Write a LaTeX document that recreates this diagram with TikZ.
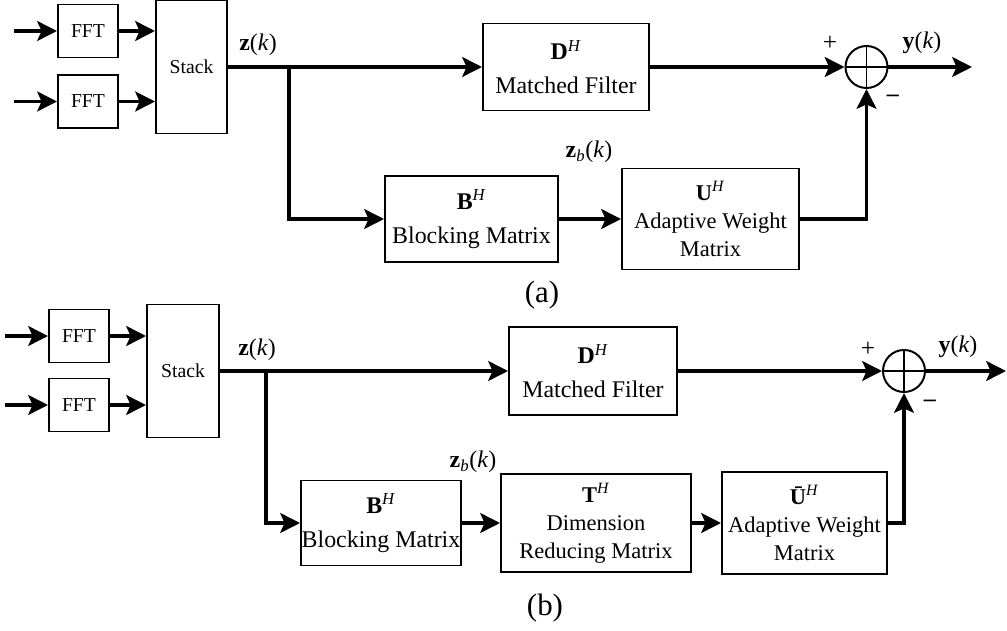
\documentclass[tikz,border=0pt]{standalone}
\usepackage{fontspec}
\setmainfont{Liberation Serif}
\usetikzlibrary{arrows.meta}
\newcommand{\vb}[1]{\textbf{#1}}
\newcommand{\hsup}{\textsuperscript{\textit{H}}}

\begin{document}
\begin{tikzpicture}[x=0.025cm, y=-0.025cm,
    blk/.style 2 args={draw, line width=1.4pt, align=center, inner sep=0pt,
        minimum width=#1*0.025cm, minimum height=#2*0.025cm,
        font=\fontsize{17}{24}\selectfont},
    fftbox/.style={blk={60}{53}, font=\fontsize{14}{16}\selectfont},
    threeline/.style={font=\fontsize{16}{20}\selectfont},
    summer/.style={circle, draw, line width=1.4pt, minimum size=42*0.025cm, inner sep=0pt},
    lbl/.style={font=\fontsize{17}{18}\selectfont},
    sig/.style={line width=2.8pt, -{Stealth[length=14pt, width=14pt, inset=3pt]}}]
    \useasboundingbox (0,0) rectangle (1007,631);

    % (a) blocks
    \node[fftbox] (fftA1) at (88,31) {FFT};
    \node[fftbox] (fftA2) at (88,101.5) {FFT};
    \node[blk={71}{133}, font=\fontsize{14}{16}\selectfont] (stackA) at (191.5,67) {Stack};
    \node[blk={166}{87}] (matchA) at (566,67) {\vb{D}\hsup\\Matched Filter};
    \node[blk={173}{86}] (blockA) at (471.5,219) {\vb{B}\hsup\\Blocking Matrix};
    \node[blk={177}{101}, threeline] (adaptA) at (710.5,219) {\vb{U}\hsup\\Adaptive Weight\\Matrix};
    \node[summer] (sumA) at (866.5,67) {};
    \draw[line width=1.4pt] (sumA.north) -- (sumA.south) (sumA.west) -- (sumA.east);

    % (a) labels
    \node[lbl] (zA) at (258,45) {\vb{z}(\textit{k})};
    \node[lbl] (zbA) at (589,152) {\vb{z}\textsubscript{\textit{b}}(\textit{k})};
    \node[lbl] (yA) at (922,43) {\vb{y}(\textit{k})};
    \node[font=\fontsize{18}{18}\selectfont] (plusA) at (830,43) {+};
    \node[lbl] (minusA) at (893,98) {\textbf{–}};
    \node[font=\fontsize{22}{24}\selectfont] (capA) at (542,295) {(a)};

    % (a) connections
    \coordinate (inA1) at (14,31);
    \coordinate (inA2) at (14,101.5);
    \coordinate (brA) at (289,67);
    \coordinate (outA) at (972,67);
    \draw[sig] (inA1) -- (fftA1);
    \draw[sig] (inA2) -- (fftA2);
    \draw[sig] (fftA1) -- (fftA1 -| stackA.west);
    \draw[sig] (fftA2) -- (fftA2 -| stackA.west);
    \draw[sig] (stackA) -- (matchA);
    \draw[sig] (brA) |- (blockA);
    \draw[sig] (blockA) -- (adaptA);
    \draw[sig] (matchA) -- (sumA);
    \draw[sig] (adaptA) -| (sumA);
    \draw[sig] (sumA) -- (outA);

    % (b) blocks
    \node[fftbox] (fftB1) at (79,336) {FFT};
    \node[fftbox] (fftB2) at (79,405) {FFT};
    \node[blk={72}{133}, font=\fontsize{14}{16}\selectfont] (stackB) at (183,371) {Stack};
    \node[blk={168}{88}] (matchB) at (593,371) {\vb{D}\hsup\\Matched Filter};
    \node[blk={160}{85}] (blockB) at (381,523) {\vb{B}\hsup\\Blocking Matrix};
    \node[blk={190}{98}, threeline] (reduceB) at (596,523) {\vb{T}\hsup\\Dimension\\Reducing Matrix};
    \node[blk={165}{102}, threeline] (adaptB) at (804.5,523) {\vb{\=U}\hsup\\Adaptive Weight\\Matrix};
    \node[summer] (sumB) at (904,371) {};
    \draw[line width=1.4pt] (sumB.north) -- (sumB.south) (sumB.west) -- (sumB.east);

    % (b) labels
    \node[lbl] (zB) at (257,350) {\vb{z}(\textit{k})};
    \node[lbl] (zbB) at (473,462) {\vb{z}\textsubscript{\textit{b}}(\textit{k})};
    \node[lbl] (yB) at (958,347) {\vb{y}(\textit{k})};
    \node[font=\fontsize{18}{18}\selectfont] (plusB) at (868,349) {+};
    \node[lbl] (minusB) at (930,403) {\textbf{–}};
    \node[font=\fontsize{22}{24}\selectfont] (capB) at (545,608) {(b)};

    % (b) connections
    \coordinate (inB1) at (5,336);
    \coordinate (inB2) at (5,405);
    \coordinate (brB) at (266,371);
    \coordinate (outB) at (1006,371);
    \draw[sig] (inB1) -- (fftB1);
    \draw[sig] (inB2) -- (fftB2);
    \draw[sig] (fftB1) -- (fftB1 -| stackB.west);
    \draw[sig] (fftB2) -- (fftB2 -| stackB.west);
    \draw[sig] (stackB) -- (matchB);
    \draw[sig] (brB) |- (blockB);
    \draw[sig] (blockB) -- (reduceB);
    \draw[sig] (reduceB) -- (adaptB);
    \draw[sig] (matchB) -- (sumB);
    \draw[sig] (adaptB) -| (sumB);
    \draw[sig] (sumB) -- (outB);
\end{tikzpicture}
\end{document}
